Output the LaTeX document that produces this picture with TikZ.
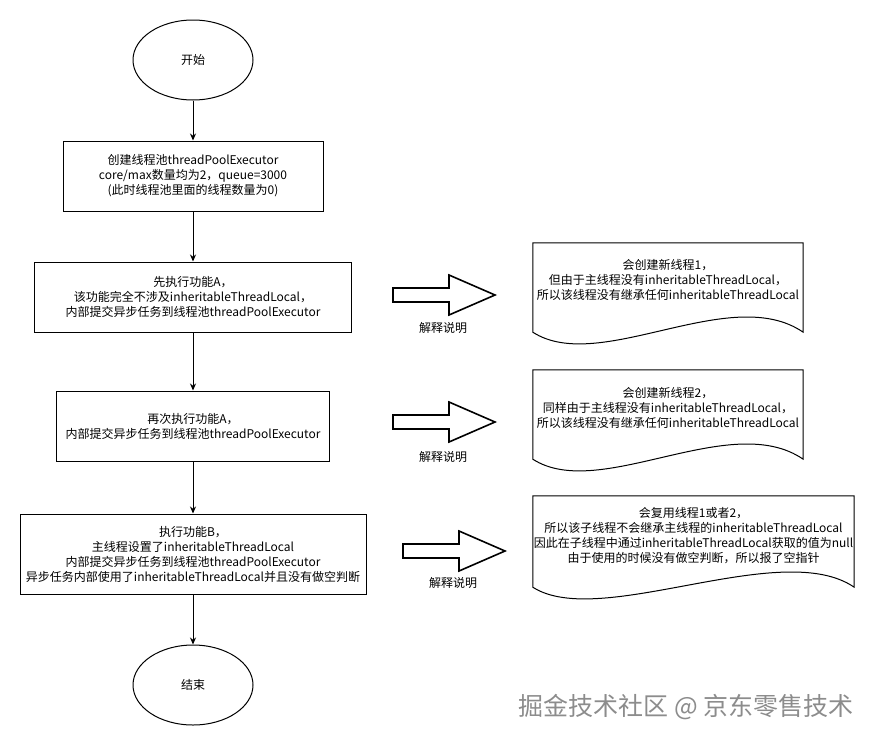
\documentclass[tikz,border=0pt]{standalone}
\usepackage{fontspec}
\setmainfont{Noto Sans CJK SC}
\usetikzlibrary{positioning, arrows.meta, shapes.geometric, calc}
\tikzset{
	>={Stealth[length=7pt,width=6pt]}, % arrow heads of the flow
	x=1pt, y=-1pt, % pixel like coordinates, y runs downwards
	every node/.style={font=\fontsize{12pt}{15pt}\selectfont, align=center},
	terminal/.style={ellipse, draw, line width=1pt, minimum width=120pt, minimum height=80pt}, % start and end
	process/.style={rectangle, draw, line width=1pt, minimum height=70pt}, % steps of the flow
	docbox/.style={rectangle, minimum width=270pt, minimum height=89pt}, % outline drawn by \docoutline
	explainarrow/.pic={\draw[line width=1.6pt, line join=miter] (0,-7) -- (56,-7) -- (56,-20) -- (102,0) -- (56,20) -- (56,7) -- (0,7) -- cycle;},
}
% document shape with a wavy bottom round a docbox node
\newcommand{\docoutline}[1]{\draw[line width=1pt] (#1.south west) -- (#1.north west) -- (#1.north east) -- (#1.south east) .. controls ($(#1.south east)+(-73,-50)$) and ($(#1.south west)+(67,43)$) .. (#1.south west) -- cycle;}

\begin{document}
\begin{tikzpicture}
	\useasboundingbox (0,0) rectangle (875,742);
	% main flow
	\node[terminal] (start) at (193,60) {开始};
	\node[process, below=40pt of start, minimum width=260pt] (create) {创建线程池threadPoolExecutor\\core/max数量均为2，queue=3000\\(此时线程池里面的线程数量为0)};
	\node[process, below=50pt of create, minimum width=317pt] (funcA) {先执行功能A，\\该功能完全不涉及inheritableThreadLocal，\\内部提交异步任务到线程池threadPoolExecutor};
	\node[process, below=58pt of funcA, minimum width=273pt] (againA) {再次执行功能A，\\内部提交异步任务到线程池threadPoolExecutor};
	\node[process, below=52pt of againA, minimum width=346pt, minimum height=80pt] (funcB) {执行功能B，\\主线程设置了inheritableThreadLocal\\内部提交异步任务到线程池threadPoolExecutor\\异步任务内部使用了inheritableThreadLocal并且没有做空判断};
	\node[terminal, below=50pt of funcB] (finish) {结束};
	\draw[->, line width=1pt] (start) edge (create)
		(create) edge (funcA)
		(funcA) edge (againA)
		(againA) edge (funcB)
		(funcB) edge (finish);

	% explanations
	\pic at (393,295) {explainarrow};
	\node (say1) at (443,328) {解释说明};
	\node[docbox] (doc1) at (668,287.5) {};
	\docoutline{doc1}
	\node (note1) at ([yshift=8pt]doc1.center) {会创建新线程1，\\但由于主线程没有inheritableThreadLocal，\\所以该线程没有继承任何inheritableThreadLocal};

	\pic at (393,422) {explainarrow};
	\node (say2) at (443,457) {解释说明};
	\node[docbox] (doc2) at (668,414.5) {};
	\docoutline{doc2}
	\node (note2) at ([yshift=7pt]doc2.center) {会创建新线程2，\\同样由于主线程没有inheritableThreadLocal，\\所以该线程没有继承任何inheritableThreadLocal};

	\pic at (403,551) {explainarrow};
	\node (say3) at (453,583) {解释说明};
	\node[docbox, minimum width=321pt, minimum height=91pt] (doc3) at (693.5,541.5) {};
	\docoutline{doc3}
	\node (note3) at ([yshift=6pt]doc3.center) {会复用线程1或者2，\\所以该子线程不会继承主线程的inheritableThreadLocal\\因此在子线程中通过inheritableThreadLocal获取的值为null\\由于使用的时候没有做空判断，所以报了空指针};

	% watermark
	\node[text=black!45, font=\fontsize{25pt}{25pt}\selectfont] (mark) at (686,707) {掘金技术社区 @ 京东零售技术};
\end{tikzpicture}
\end{document}
